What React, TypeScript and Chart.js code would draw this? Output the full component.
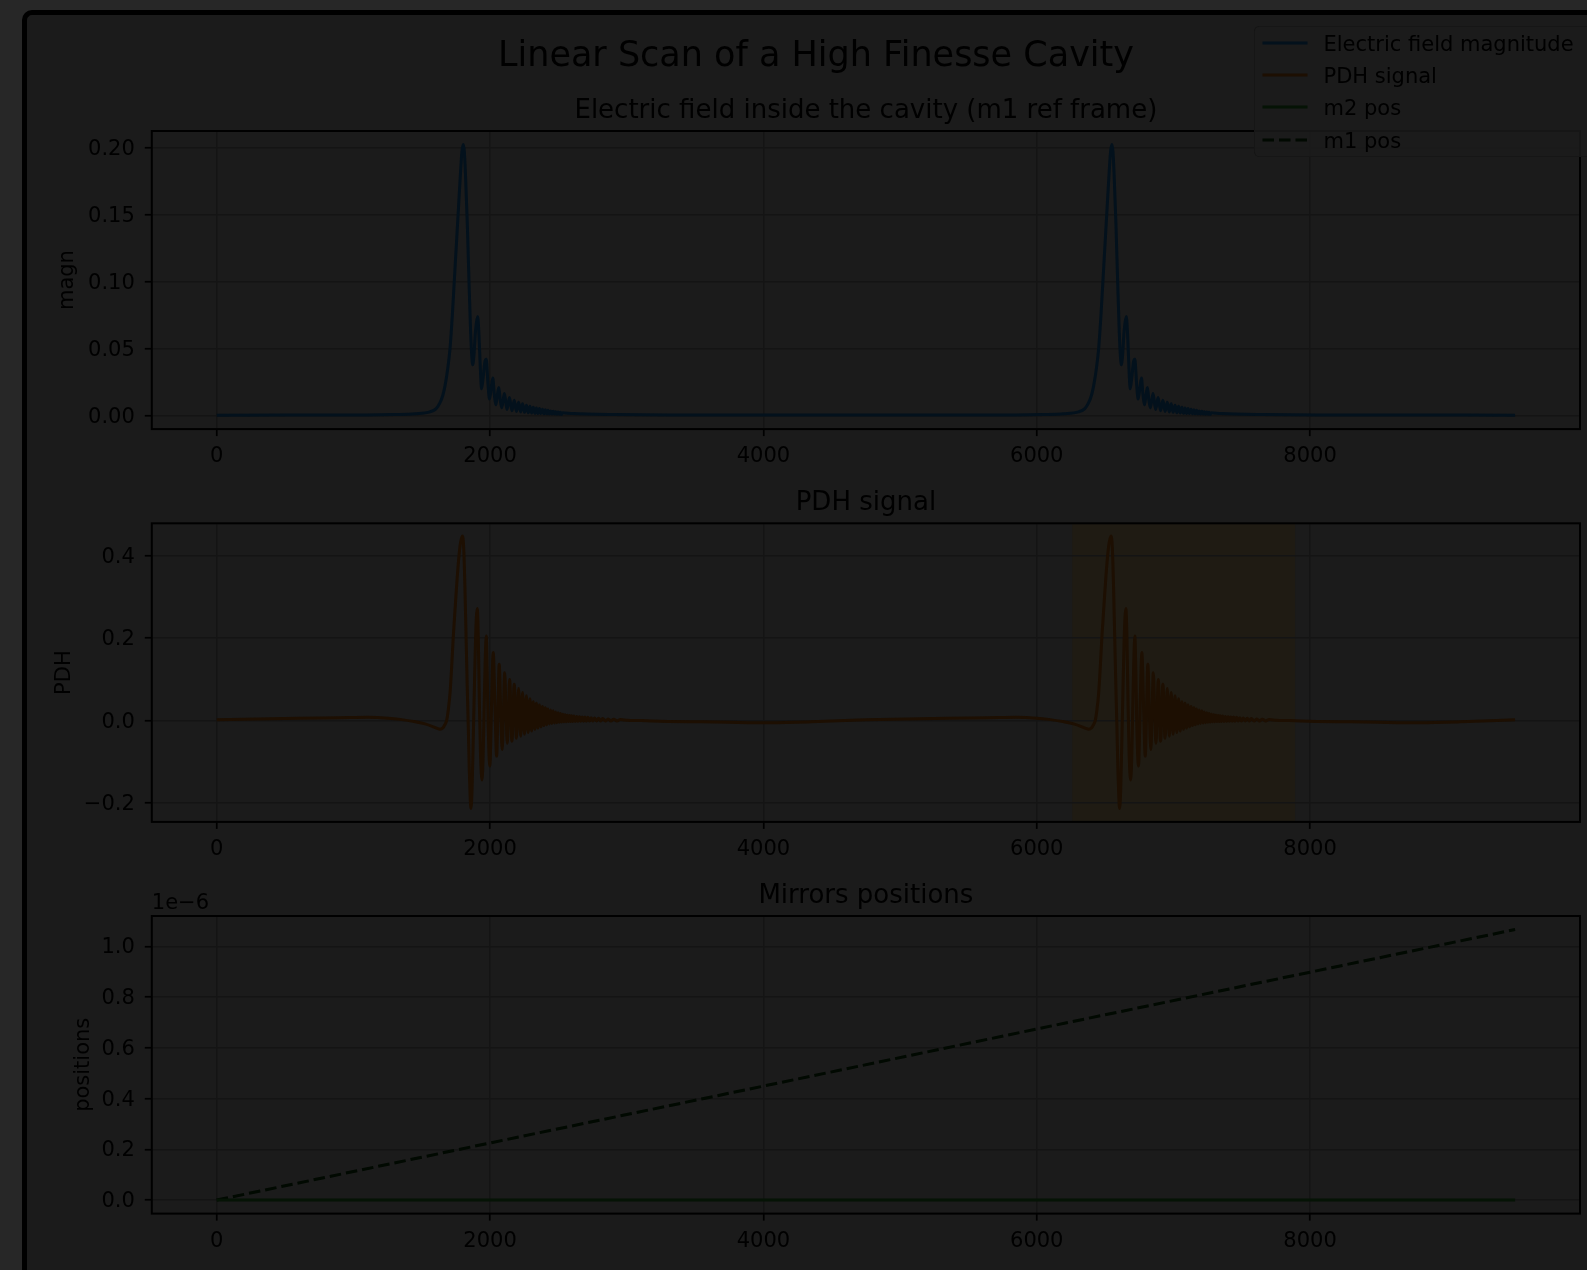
import React, { useEffect, useRef } from "react";
import { Chart, registerables } from "chart.js";

Chart.register(...registerables);

const FONT = "'DejaVu Sans', 'Liberation Sans', sans-serif";
const COL = {
  outer: "#272727",
  bg: "#1b1b1b",
  text: "#000000",
  grid: "#141414",
  blue: "#03111c",
  orange: "#1d0f02",
  green: "#051305",
  dash: "#010901",
  span: "#1f1b13",
  legendEdge: "#161616",
};

// ---- axes ----
const X_TICKS = [0, 2000, 4000, 6000, 8000];
const MAGN_TICKS = [0, 0.05, 0.1, 0.15, 0.2];
const PDH_TICKS = [-0.2, 0, 0.2, 0.4];
const POS_TICKS = [0, 0.2e-6, 0.4e-6, 0.6e-6, 0.8e-6, 1.0e-6];
const X_MIN = -475;
const X_MAX = 9975;
const MAGN_MIN = -0.0101;
const MAGN_MAX = 0.2126;
const PDH_MIN = -0.2457;
const PDH_MAX = 0.4786;
const POS_MIN = -0.0533e-6;
const POS_MAX = 1.1193e-6;

// ---- data ----
// resonance centres (sample index) where the field builds up
const RESONANCES = [1804, 6550];
// highlighted region in the PDH panel
const PDH_SPAN = [6260, 7890];

// electric field magnitude around a resonance: [offset from centre, value]
const MAGN_PEAK: [number, number][] = [
  [-700, 0.0005], [-500, 0.0008], [-350, 0.0014], [-244, 0.0028], [-200, 0.005],
  [-171, 0.0095], [-150, 0.015], [-134, 0.022], [-115, 0.034], [-97, 0.05],
  [-80, 0.075], [-66, 0.1], [-52, 0.125], [-38, 0.15], [-21, 0.18], [-10, 0.197],
  [0, 0.2025], [8, 0.197], [17, 0.178], [29, 0.145], [42, 0.1], [54, 0.062],
  [62, 0.045], [69, 0.038], [78, 0.045], [90, 0.064], [105, 0.074], [115, 0.06],
  [125, 0.035], [134, 0.02], [145, 0.028], [158, 0.04], [168, 0.042], [180, 0.025],
  [192, 0.0124], [204, 0.02], [216, 0.028], [227, 0.016], [238, 0.008], [249, 0.015],
  [260, 0.021], [270, 0.012], [281, 0.0058], [291, 0.011], [301, 0.0165], [320, 0.0045],
  [338, 0.0135], [356, 0.0037], [373, 0.0115], [389, 0.0031], [405, 0.01], [420, 0.0027],
  [434, 0.0088], [448, 0.0024], [462, 0.0078], [475, 0.0021], [488, 0.007], [500, 0.0019],
  [512, 0.0063], [524, 0.0017], [535, 0.0057], [546, 0.0016], [557, 0.0052], [568, 0.0015],
  [579, 0.0047], [589, 0.0014], [600, 0.0043], [610, 0.0013], [620, 0.0039], [630, 0.0012],
  [639, 0.0035], [648, 0.0011], [658, 0.0032], [667, 0.0011], [676, 0.0029], [685, 0.001],
  [694, 0.0026], [703, 0.001], [711, 0.0024], [719, 0.0009], [728, 0.0022], [745, 0.0019],
  [800, 0.0015], [900, 0.0011], [1100, 0.0008], [1500, 0.0005],
];
// electric field magnitude away from the resonances: [sample, value]
const MAGN_BASE: [number, number][] = [
  [0, 0.0003], [500, 0.0004], [1000, 0.0005], [3400, 0.0005], [4200, 0.0004],
  [5000, 0.0004], [5750, 0.0005], [8150, 0.0005], [8800, 0.0004], [9500, 0.0003],
];

// PDH error signal around a resonance: [offset from centre, value]
const PDH_PEAK: [number, number][] = [
  [-700, 0.008], [-550, 0.006], [-463, 0.003], [-350, -0.003], [-280, -0.008],
  [-219, -0.015], [-190, -0.019], [-171, -0.021], [-150, -0.018], [-135, -0.01],
  [-122, 0.0], [-110, 0.025], [-97, 0.066], [-85, 0.13], [-73, 0.204], [-58, 0.28],
  [-44, 0.349], [-25, 0.42], [-7, 0.448], [3, 0.42], [12, 0.325], [20, 0.21],
  [29, 0.082], [37, -0.02], [44, -0.12], [50, -0.18], [56, -0.213], [64, -0.17],
  [72, -0.06], [80, 0.06], [90, 0.2], [102, 0.272], [110, 0.2], [118, 0.04],
  [126, -0.08], [137, -0.144], [145, -0.09], [152, 0.02], [160, 0.14], [168, 0.205],
  [175, 0.12], [182, -0.01], [188, -0.08], [195, -0.11], [201, -0.05], [207, 0.04],
  [213, 0.12], [219, 0.165], [232, 0.03], [244, -0.086], [254, 0.03], [263, 0.137],
  [274, 0.02], [285, -0.07], [294, 0.02], [303, 0.116], [313, 0.02], [322, -0.055],
  [331, 0.02], [339, 0.1], [356, -0.05], [373, 0.088], [389, -0.043], [405, 0.078],
  [420, -0.038], [434, 0.068], [448, -0.033], [462, 0.06], [475, -0.029], [488, 0.053],
  [500, -0.025], [512, 0.046], [524, -0.021], [535, 0.042], [546, -0.018], [557, 0.038],
  [568, -0.015], [579, 0.034], [589, -0.012], [600, 0.031], [610, -0.01], [620, 0.028],
  [630, -0.008], [639, 0.026], [648, -0.007], [658, 0.024], [667, -0.006], [676, 0.021],
  [685, -0.005], [694, 0.019], [703, -0.004], [711, 0.017], [719, -0.0035], [728, 0.0155],
  [736, -0.003], [745, 0.014], [753, -0.0027], [761, 0.0132], [769, -0.0024], [777, 0.0125],
  [785, -0.0022], [792, 0.0118], [800, -0.002], [810, 0.011], [820, -0.0018], [830, 0.01],
  [840, -0.0016], [850, 0.0095], [860, -0.0015], [870, 0.009], [880, -0.0014], [890, 0.0085],
  [900, -0.0013], [912, 0.008], [924, -0.0012], [936, 0.0072], [948, -0.0011], [960, 0.0065],
  [975, -0.001], [990, 0.0058], [1005, -0.001], [1020, 0.005], [1040, -0.0009], [1060, 0.0042],
  [1080, -0.0009], [1100, 0.0035], [1125, -0.0008], [1150, 0.0025], [1200, 0.0008],
  [1300, 0.0], [1500, -0.002],
];
// PDH signal away from the resonances: [sample, value]
const PDH_BASE: [number, number][] = [
  [0, 0.002], [300, 0.004], [600, 0.006], [900, 0.007],
  [3550, -0.003], [3750, -0.004], [4050, -0.005], [4350, -0.003], [4750, 0.002],
  [5050, 0.004], [5350, 0.006], [5650, 0.007],
  [8300, -0.003], [8500, -0.004], [8800, -0.005], [9100, -0.003], [9500, 0.002],
];

// mirror positions (m)
const M1_X = [0, 2000, 4000, 6000, 8000, 9500];
const M1_Y = [0, 0.225e-6, 0.449e-6, 0.674e-6, 0.898e-6, 1.066e-6];
const M2_X = [0, 9500];
const M2_Y = [0, 0];

function buildSeries(base: [number, number][], peak: [number, number][]) {
  const pts = base.map(([x, y]) => ({ x, y }));
  RESONANCES.forEach((c) => peak.forEach(([d, y]) => pts.push({ x: c + d, y })));
  pts.sort((a, b) => a.x - b.x);
  return pts;
}

const frame = {
  id: "frame",
  afterDatasetsDraw(chart: any) {
    const { ctx, chartArea: a } = chart;
    ctx.save();
    ctx.strokeStyle = "#000";
    ctx.lineWidth = 2;
    ctx.strokeRect(a.left, a.top, a.right - a.left, a.bottom - a.top);
    ctx.restore();
  },
};

function xAxis(height: number) {
  return {
    type: "linear",
    min: X_MIN,
    max: X_MAX,
    afterBuildTicks: (s: any) => {
      s.ticks = X_TICKS.map((v) => ({ value: v }));
    },
    afterFit: (s: any) => {
      s.height = height;
    },
    ticks: {
      color: COL.text,
      font: { family: FONT, size: 21 },
      padding: 8,
      maxRotation: 0,
      autoSkip: false,
      callback: (v: any) => String(v),
    },
    grid: {
      color: COL.grid,
      lineWidth: 1.5,
      tickColor: "#000",
      tickWidth: 1.7,
      tickLength: 7,
    },
    border: { display: false },
  };
}

function yAxis(o: {
  min: number;
  max: number;
  ticks: number[];
  fmt: (v: number) => string;
  width: number;
  title: string;
  titlePad: number;
}) {
  return {
    type: "linear",
    min: o.min,
    max: o.max,
    afterBuildTicks: (s: any) => {
      s.ticks = o.ticks.map((v) => ({ value: v }));
    },
    afterFit: (s: any) => {
      s.width = o.width;
    },
    ticks: {
      color: COL.text,
      font: { family: FONT, size: 21 },
      padding: 10,
      labelOffset: 1.5,
      autoSkip: false,
      callback: (v: any) => o.fmt(Number(v)),
    },
    grid: {
      color: COL.grid,
      lineWidth: 1.5,
      tickColor: "#000",
      tickWidth: 1.7,
      tickLength: 7,
    },
    border: { display: false },
    title: {
      display: true,
      text: o.title,
      color: COL.text,
      font: { family: FONT, size: 21 },
      padding: { top: o.titlePad, bottom: 0 },
    },
  };
}

const minus = (s: string) => s.replace("-", "\u2212");

function lineDs(label: string, pts: any[], color: string, extra: any = {}) {
  return {
    label,
    data: pts,
    borderColor: color,
    backgroundColor: color,
    borderWidth: 3,
    pointRadius: 0,
    fill: false,
    borderJoinStyle: "round",
    cubicInterpolationMode: "monotone",
    ...extra,
  };
}

function baseOptions(extra: any) {
  return {
    responsive: false,
    animation: false,
    devicePixelRatio: 1,
    events: [],
    layout: { padding: { left: 0, right: 7, top: 0, bottom: 0 } },
    ...extra,
  };
}

const LEGEND = [
  { label: "Electric field magnitude", color: COL.blue, dash: false },
  { label: "PDH signal", color: COL.orange, dash: false },
  { label: "m2 pos", color: COL.green, dash: false },
  { label: "m1 pos", color: COL.dash, dash: true },
];

export default function App() {
  const r1 = useRef<HTMLCanvasElement>(null);
  const r2 = useRef<HTMLCanvasElement>(null);
  const r3 = useRef<HTMLCanvasElement>(null);

  useEffect(() => {
    Chart.defaults.font.family = FONT;
    const magnPts = buildSeries(MAGN_BASE, MAGN_PEAK);
    const pdhPts = buildSeries(PDH_BASE, PDH_PEAK);
    const m1Pts = M1_X.map((x, i) => ({ x, y: M1_Y[i] }));
    const m2Pts = M2_X.map((x, i) => ({ x, y: M2_Y[i] }));

    const c1 = new Chart(r1.current as HTMLCanvasElement, {
      type: "line",
      data: { datasets: [lineDs("Electric field magnitude", magnPts, COL.blue)] },
      options: baseOptions({
        scales: {
          x: xAxis(44.9),
          y: yAxis({
            min: MAGN_MIN,
            max: MAGN_MAX,
            ticks: MAGN_TICKS,
            fmt: (v) => v.toFixed(2),
            width: 99.8,
            title: "magn",
            titlePad: 3.0,
          }),
        },
        plugins: {
          legend: { display: false },
          tooltip: { enabled: false },
          title: {
            display: true,
            text: "Linear Scan of a High Finesse Cavity",
            color: COL.text,
            font: { family: FONT, size: 35, weight: "normal" },
            padding: { top: 35.8, bottom: 15.9 },
            fullSize: true,
          },
          subtitle: {
            display: true,
            text: "Electric field inside the cavity (m1 ref frame)",
            color: COL.text,
            font: { family: FONT, size: 26, weight: "normal" },
            padding: { top: 1.9, bottom: 4.2 },
            fullSize: false,
          },
        },
      }),
      plugins: [frame],
    } as any);

    const spanPlugin = {
      id: "span",
      beforeDraw(chart: any) {
        const { ctx, chartArea: a, scales } = chart;
        const x0 = scales.x.getPixelForValue(PDH_SPAN[0]);
        const x1 = scales.x.getPixelForValue(PDH_SPAN[1]);
        ctx.save();
        ctx.fillStyle = COL.span;
        ctx.fillRect(x0, a.top, x1 - x0, a.bottom - a.top);
        ctx.restore();
      },
    };

    const c2 = new Chart(r2.current as HTMLCanvasElement, {
      type: "line",
      data: { datasets: [lineDs("PDH signal", pdhPts, COL.orange)] },
      options: baseOptions({
        scales: {
          x: xAxis(45.1),
          y: yAxis({
            min: PDH_MIN,
            max: PDH_MAX,
            ticks: PDH_TICKS,
            fmt: (v) => minus(v.toFixed(1)),
            width: 151.8,
            title: "PDH",
            titlePad: 52.2,
          }),
        },
        plugins: {
          legend: { display: false },
          tooltip: { enabled: false },
          title: {
            display: true,
            text: "PDH signal",
            color: COL.text,
            font: { family: FONT, size: 26, weight: "normal" },
            padding: { top: 13.4, bottom: 4.7 },
            fullSize: false,
          },
        },
      }),
      plugins: [spanPlugin, frame],
    } as any);

    const offsetText = {
      id: "offsetText",
      afterDraw(chart: any) {
        const { ctx, chartArea: a } = chart;
        ctx.save();
        ctx.fillStyle = COL.text;
        ctx.font = `21px ${FONT}`;
        ctx.textAlign = "left";
        ctx.textBaseline = "alphabetic";
        ctx.fillText("1e\u22126", a.left, a.top - 6.7);
        ctx.restore();
      },
    };

    const c3 = new Chart(r3.current as HTMLCanvasElement, {
      type: "line",
      data: {
        datasets: [
          lineDs("m2 pos", m2Pts, COL.green, { cubicInterpolationMode: "default", tension: 0 }),
          lineDs("m1 pos", m1Pts, COL.dash, {
            cubicInterpolationMode: "default",
            tension: 0,
            borderDash: [11.5, 5],
            borderCapStyle: "butt",
          }),
        ],
      },
      options: baseOptions({
        scales: {
          x: xAxis(56.4),
          y: yAxis({
            min: POS_MIN,
            max: POS_MAX,
            ticks: POS_TICKS,
            fmt: (v) => (v * 1e6).toFixed(1),
            width: 151.8,
            title: "positions",
            titlePad: 71.3,
          }),
        },
        plugins: {
          legend: { display: false },
          tooltip: { enabled: false },
          title: {
            display: true,
            text: "Mirrors positions",
            color: COL.text,
            font: { family: FONT, size: 26, weight: "normal" },
            padding: { top: 13.6, bottom: 4.2 },
            fullSize: false,
          },
        },
      }),
      plugins: [frame, offsetText],
    } as any);

    return () => {
      c1.destroy();
      c2.destroy();
      c3.destroy();
    };
  }, []);

  const rowCenters = [44.3, 76.7, 108.7, 141];
  const legendTop = 26;

  return (
    <div
      style={{
        position: "fixed",
        left: 0,
        top: 0,
        width: 1587,
        height: 1270,
        overflow: "hidden",
        background: COL.outer,
        fontFamily: FONT,
      }}
    >
      <div
        style={{
          position: "absolute",
          left: 22,
          top: 10,
          width: 1640,
          height: 1320,
          background: COL.bg,
          borderLeft: "5px solid #000",
          borderTop: "5px solid #000",
          borderTopLeftRadius: 10,
        }}
      />
      <canvas
        ref={r1}
        width={1535}
        height={474}
        style={{ position: "absolute", left: 52, top: 0 }}
      />
      <canvas
        ref={r2}
        width={1587}
        height={393}
        style={{ position: "absolute", left: 0, top: 474 }}
      />
      <canvas
        ref={r3}
        width={1587}
        height={403}
        style={{ position: "absolute", left: 0, top: 867 }}
      />
      <div
        style={{
          position: "absolute",
          left: 1254,
          top: legendTop,
          width: 380,
          height: 131,
          boxSizing: "border-box",
          background: "rgba(27,27,27,0.8)",
          border: `1.5px solid ${COL.legendEdge}`,
          borderRadius: 5,
        }}
      >
        {LEGEND.map((e, i) => {
          const cy = rowCenters[i] - legendTop - 1.5;
          return (
            <React.Fragment key={e.label}>
              <svg
                width={50}
                height={8}
                style={{ position: "absolute", left: 6, top: cy - 5 }}
              >
                <line
                  x1={1.5}
                  y1={4}
                  x2={46.5}
                  y2={4}
                  stroke={e.color}
                  strokeWidth={3}
                  strokeDasharray={e.dash ? "11.5 5" : undefined}
                />
              </svg>
              <div
                style={{
                  position: "absolute",
                  left: 68.5,
                  top: cy - 12,
                  height: 24,
                  lineHeight: "24px",
                  fontSize: 21,
                  color: COL.text,
                  whiteSpace: "nowrap",
                  fontFamily: FONT,
                }}
              >
                {e.label}
              </div>
            </React.Fragment>
          );
        })}
      </div>
    </div>
  );
}
